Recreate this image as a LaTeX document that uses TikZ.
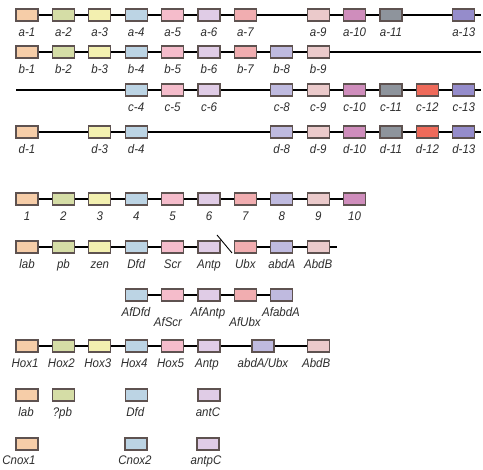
\documentclass[tikz,border=0pt]{standalone}
\usepackage{fontspec}
\setmainfont{Liberation Sans}
\newfontfamily\lblfont[FakeStretch=0.92]{Liberation Sans}
\definecolor{c1}{HTML}{F6CDA8}
\definecolor{c2}{HTML}{D5DDA6}
\definecolor{c3}{HTML}{F3F0B0}
\definecolor{c4}{HTML}{BCD4E4}
\definecolor{c5}{HTML}{F5BCCB}
\definecolor{c6}{HTML}{E0CCE6}
\definecolor{c7}{HTML}{F1ADB0}
\definecolor{c8}{HTML}{BFBADF}
\definecolor{c9}{HTML}{EBCACB}
\definecolor{c10}{HTML}{CF8DBC}
\definecolor{c11}{HTML}{8E949C}
\definecolor{c12}{HTML}{EF6A5A}
\definecolor{c13}{HTML}{958CCB}
\definecolor{boxc}{HTML}{5E5250}
\definecolor{txt}{HTML}{2E2E2E}
\begin{document}
\begin{tikzpicture}[x=1pt,y=-1pt,
  gene/.style={draw=boxc, line width=1.1pt, minimum width=22pt, minimum height=12pt, inner sep=0pt},
  lbl/.style={anchor=base, font=\lblfont\fontsize{12.5}{14}\selectfont\itshape, text=txt, inner sep=0pt},
  wire/.style={line width=1.2pt, black}]
\useasboundingbox (0,0) rectangle (483,470);
\fill[white] (0,0) rectangle (483,470);
% row a
\foreach \i in {1,2,3,4,5,6,7,9,10,11,13}{
  \node[gene,fill=c\i] (a\i) at ({27+36.4*(\i-1)},15) {};
  \node[lbl] (la\i) at ({27+36.4*(\i-1)},37) {a-\i};}
\coordinate (aE) at (481,15);
\draw[wire] (a1)--(a2)--(a3)--(a4)--(a5)--(a6)--(a7)--(a9)--(a10)--(a11)--(a13)--(aE);
% row b
\foreach \i in {1,2,3,4,5,6,7,8,9}{
  \node[gene,fill=c\i] (b\i) at ({27+36.4*(\i-1)},52) {};
  \node[lbl] (lb\i) at ({27+36.4*(\i-1)},74) {b-\i};}
\coordinate (bE) at (481,52);
\draw[wire] (b1)--(b2)--(b3)--(b4)--(b5)--(b6)--(b7)--(b8)--(b9)--(bE);
% row c
\foreach \i in {4,5,6,8,9,10,11,12,13}{
  \node[gene,fill=c\i] (c\i) at ({27+36.4*(\i-1)},90) {};
  \node[lbl] (lc\i) at ({27+36.4*(\i-1)},112) {c-\i};}
\coordinate (cS) at (16,90);
\coordinate (cE) at (481,90);
\draw[wire] (cS)--(c4)--(c5)--(c6)--(c8)--(c9)--(c10)--(c11)--(c12)--(c13)--(cE);
% row d
\foreach \i in {1,3,4,8,9,10,11,12,13}{
  \node[gene,fill=c\i] (d\i) at ({27+36.4*(\i-1)},132) {};
  \node[lbl] (ld\i) at ({27+36.4*(\i-1)},154) {d-\i};}
\coordinate (dE) at (481,132);
\draw[wire] (d1)--(d3)--(d4)--(d8)--(d9)--(d10)--(d11)--(d12)--(d13)--(dE);
% numbered row
\foreach \i in {1,...,10}{
  \node[gene,fill=c\i] (n\i) at ({27+36.4*(\i-1)},199) {};
  \node[lbl] (ln\i) at ({27+36.4*(\i-1)},221) {\i};}
\draw[wire] (n1)--(n2)--(n3)--(n4)--(n5)--(n6)--(n7)--(n8)--(n9)--(n10);
% Drosophila row
\foreach \i/\t in {1/lab,2/pb,3/zen,4/Dfd,5/Scr,6/Antp,7/Ubx,8/abdA,9/AbdB}{
  \node[gene,fill=c\i] (l\i) at ({27+36.4*(\i-1)},247) {};
  \node[lbl] (ll\i) at ({27+36.4*(\i-1)},269) {\t};}
\coordinate (lE) at (337,247);
\draw[wire] (l1)--(l2)--(l3)--(l4)--(l5)--(l6);
\draw[wire] (l7)--(l8)--(l9)--(lE);
\coordinate (s1) at (217,235);
\coordinate (s2) at (232,253);
\draw[line width=0.9pt] (s1)--(s2);
% Af row
\foreach \i in {4,5,6,7,8}{
  \node[gene,fill=c\i] (f\i) at ({27+36.4*(\i-1)},295) {};}
\node[lbl] (lf4) at (136,317) {AfDfd};
\node[lbl] (lf5) at (168,327) {AfScr};
\node[lbl] (lf6) at (208,317) {AfAntp};
\node[lbl] (lf7) at (245,327) {AfUbx};
\node[lbl] (lf8) at (281,317) {AfabdA};
\draw[wire] (f4)--(f5)--(f6)--(f7)--(f8);
% Hox row
\foreach \i/\t in {1/Hox1,2/Hox2,3/Hox3,4/Hox4,5/Hox5,6/Antp,9/AbdB}{
  \node[gene,fill=c\i] (h\i) at ({27+36.4*(\i-1)},346) {};
  \node[lbl] (lh\i) at ({25+36.4*(\i-1)},368) {\t};}
\node[gene,fill=c8] (h7) at (263,346) {};
\node[lbl] (lh7) at (263,368) {abdA/Ubx};
\draw[wire] (h1)--(h2)--(h3)--(h4)--(h5)--(h6)--(h7)--(h9);
% row p
\foreach \i/\t in {1/lab,2/?pb,4/Dfd,6/antC}{
  \node[gene,fill=c\i] (p\i) at ({27+36.4*(\i-1)},395) {};
  \node[lbl] (lp\i) at ({26+36.4*(\i-1)},417) {\t};}
% row q
\node[gene,fill=c1] (q1) at (27,444) {};
\node[lbl] (lq1) at (19,465) {Cnox1};
\node[gene,fill=c4] (q4) at (136,444) {};
\node[lbl] (lq4) at (135,465) {Cnox2};
\node[gene,fill=c6] (q6) at (208,444) {};
\node[lbl] (lq6) at (206,465) {antpC};
\end{tikzpicture}
\end{document}
